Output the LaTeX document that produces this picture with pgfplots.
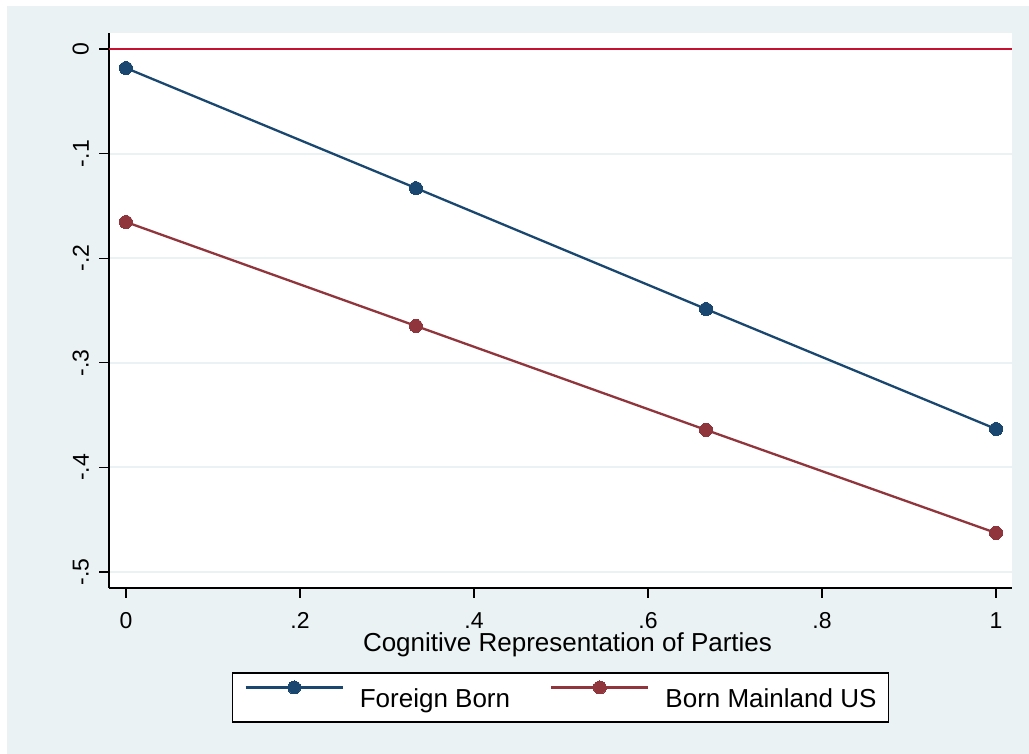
\documentclass[border=0pt]{standalone}
\usepackage{pgfplots}
\pgfplotsset{compat=1.18}
\usepackage{fontspec}
\setmainfont{Liberation Sans}
\definecolor{bgc}{RGB}{234,242,243}
\definecolor{snavy}{RGB}{26,71,111}
\definecolor{smaroon}{RGB}{144,53,59}
\definecolor{sred}{RGB}{200,16,48}
\begin{document}
\begin{tikzpicture}[x=1bp,y=1bp]
\fill[white] (0,0) rectangle (1029,754);
\fill[bgc] (7,0) rectangle (1029,748);
\useasboundingbox (0,0) rectangle (1029,754);
\begin{axis}[
  at={(109bp,166bp)}, anchor=south west,
  width=903bp, height=555bp, scale only axis,
  xmin=-0.0195, xmax=1.0184, ymin=-0.5153, ymax=0.0153,
  axis background/.style={fill=white},
  axis x line*=bottom, axis y line*=left,
  axis line style={black, line width=1.1bp, -},
  tick align=outside, major tick length=10bp,
  tick style={black, line width=1.1bp},
  xtick={0,0.2,0.4,0.6,0.8,1},
  xticklabels={0,.2,.4,.6,.8,1},
  ytick={-0.5,-0.4,-0.3,-0.2,-0.1,0},
  yticklabels={-.5,-.4,-.3,-.2,-.1,0},
  minor tick num=0,
  ymajorgrids, grid style={bgc, line width=2bp},
  xticklabel style={font=\fontsize{23bp}{27bp}\selectfont, inner sep=0pt, anchor=north, yshift=-14bp},
  yticklabel style={font=\fontsize{23bp}{27bp}\selectfont, xshift=-10bp, rotate=90, anchor=south, inner sep=0pt},
  xlabel={Cognitive Representation of Parties},
  xlabel style={font=\fontsize{26bp}{30bp}\selectfont, at={(axis description cs:0.5,0)}, anchor=base, yshift=-64bp, xshift=7bp, inner sep=0pt},
  legend columns=2,
  legend style={at={(0.5,-0.1973)}, anchor=center, draw=black, line width=1.1bp, fill=white,
    inner xsep=12bp, inner ysep=8bp, column sep=16bp,
    /tikz/every even column/.append style={column sep=40bp},
    nodes={inner sep=0pt, text height=27bp, text depth=6bp, font=\fontsize{26bp}{30bp}\selectfont}},
  legend cell align=left,
  legend image code/.code={
    \draw[#1, mark=none] (0bp,10bp) -- (97bp,10bp);
    \draw[#1] plot coordinates {(48.5bp,10bp)};
  },
]
\addplot[sred, line width=2.5bp, no marks, forget plot] coordinates {(-0.0195,0) (1.0184,0)};
\addplot[snavy, line width=2.3bp, mark=*, mark size=6.5bp, mark options={fill=snavy, draw=snavy, line width=0pt}] coordinates {
 (0,-0.0182) (0.3333,-0.1330) (0.6667,-0.2486) (1,-0.3633)};
\addlegendentry{Foreign Born}
\addplot[smaroon, line width=2.3bp, mark=*, mark size=6.5bp, mark options={fill=smaroon, draw=smaroon, line width=0pt}] coordinates {
 (0,-0.1654) (0.3333,-0.2648) (0.6667,-0.3642) (1,-0.4627)};
\addlegendentry{Born Mainland US}
\end{axis}
\end{tikzpicture}
\end{document}
